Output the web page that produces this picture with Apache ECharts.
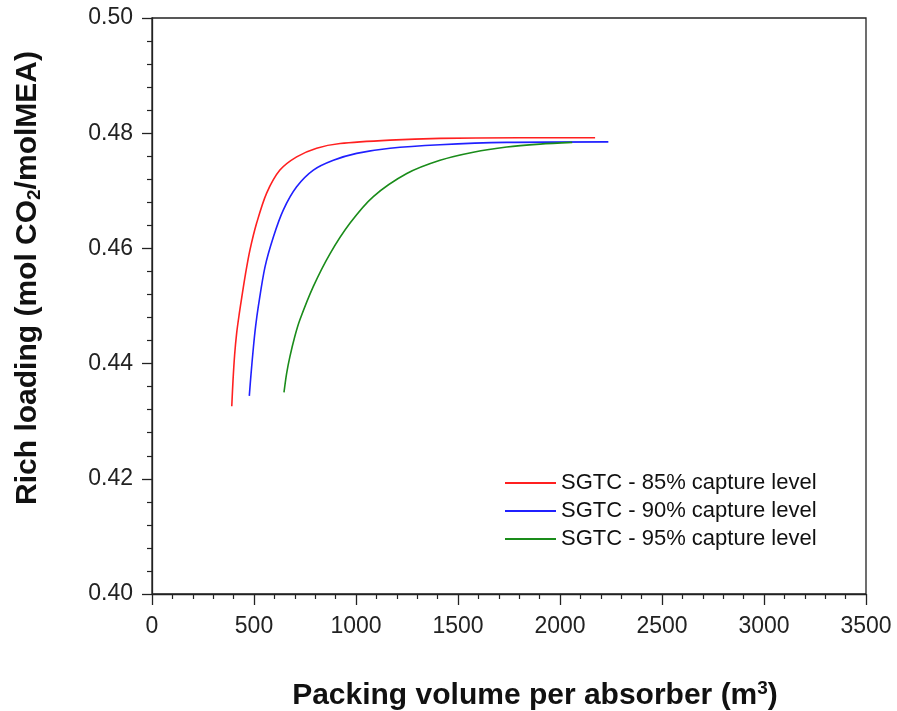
<!DOCTYPE html>
<html>
<head>
<meta charset="utf-8">
<script src="https://cdn.jsdelivr.net/npm/echarts@6/dist/echarts.min.js"></script>
<style>
  html, body { margin: 0; padding: 0; background: #fff; }
  #chart { width: 897px; height: 711px; }
</style>
</head>
<body>
<div id="chart"></div>
<script>
// packing volume (m3) and rich loading for each capture level
const red85X = [391, 397, 405, 415, 428, 440, 458, 480, 513, 562, 627, 709, 807, 922, 1167, 1412, 1800, 2172]
const red85Y = [0.4326, 0.4370, 0.4415, 0.4453, 0.4487, 0.4515, 0.4555, 0.4597, 0.4644, 0.4696, 0.4736, 0.4759, 0.4774, 0.4782, 0.4788, 0.4791, 0.4792, 0.4792]

const blue90X = [477, 485, 497, 508, 521, 554, 595, 644, 709, 791, 889, 1003, 1167, 1412, 1739, 2237]
const blue90Y = [0.4344, 0.4380, 0.4428, 0.4465, 0.4499, 0.4568, 0.4620, 0.4667, 0.4707, 0.4736, 0.4753, 0.4765, 0.4774, 0.4780, 0.4784, 0.4785]

const green95X = [647, 660, 676, 700, 725, 791, 873, 971, 1085, 1249, 1412, 1575, 1739, 1902, 2060]
const green95Y = [0.4350, 0.4383, 0.4412, 0.4447, 0.4476, 0.4534, 0.4591, 0.4644, 0.4690, 0.4730, 0.4753, 0.4767, 0.4776, 0.4781, 0.4784]

const seriesNames = ['SGTC - 85% capture level', 'SGTC - 90% capture level', 'SGTC - 95% capture level']
const seriesColors = ['#ff2020', '#2020ff', '#1a8c1a']

const pairs = (xs, ys) => xs.map((x, i) => [x, ys[i]])
const allData = [pairs(red85X, red85Y), pairs(blue90X, blue90Y), pairs(green95X, green95Y)]

const font = '"Liberation Sans", Arial, sans-serif'
const chart = echarts.init(document.getElementById('chart'))

chart.setOption({
  animation: false,
  grid: {
    left: 152, right: 31, top: 18, bottom: 117,
    outerBoundsMode: 'none',
    show: true, borderColor: '#222', borderWidth: 1.3
  },
  legend: {
    orient: 'vertical',
    left: 500, top: 467,
    icon: 'rect',
    itemWidth: 51, itemHeight: 2, itemGap: 6,
    textStyle: { fontFamily: font, fontSize: 22, color: '#111' },
    data: seriesNames
  },
  xAxis: {
    type: 'value', min: 0, max: 3500, interval: 500,
    name: '{b|Packing volume per absorber (m}{sup|3}{b|)}',
    nameLocation: 'middle', nameGap: 85,
    nameTextStyle: {
      padding: [0, 0, 0, 52],
      rich: {
        b: { fontFamily: font, fontWeight: 'bold', fontSize: 30, color: '#111' },
        sup: { fontFamily: font, fontWeight: 'bold', fontSize: 19, color: '#111', padding: [0, 0, 14, 0] }
      }
    },
    axisLine: { lineStyle: { color: '#222', width: 1.3 } },
    axisTick: { length: 11, lineStyle: { color: '#222', width: 1.3 } },
    minorTick: { show: true, splitNumber: 5, length: 5, lineStyle: { color: '#222', width: 1.2 } },
    axisLabel: { fontFamily: font, fontSize: 23, color: '#222', margin: 21, formatter: v => String(v) },
    splitLine: { show: false }
  },
  yAxis: {
    type: 'value', min: 0.40, max: 0.50, interval: 0.02,
    name: '{b|Rich loading (mol CO}{sub|2}{b|/molMEA)}',
    nameLocation: 'middle', nameGap: 108, nameRotate: 90,
    nameTextStyle: {
      padding: [0, 0, 0, 56],
      rich: {
        b: { fontFamily: font, fontWeight: 'bold', fontSize: 30, color: '#111' },
        sub: { fontFamily: font, fontWeight: 'bold', fontSize: 19, color: '#111', padding: [14, 0, 0, 0] }
      }
    },
    axisLine: { show: true, lineStyle: { color: '#222', width: 1.3 } },
    axisTick: { show: true, length: 10, lineStyle: { color: '#222', width: 1.3 } },
    minorTick: { show: true, splitNumber: 5, length: 5, lineStyle: { color: '#222', width: 1.2 } },
    axisLabel: { fontFamily: font, fontSize: 23, color: '#222', margin: 19, formatter: v => v.toFixed(2) },
    splitLine: { show: false }
  },
  series: allData.map((d, i) => ({
    name: seriesNames[i],
    type: 'line',
    data: d,
    smooth: 0.3,
    symbol: 'none',
    lineStyle: { color: seriesColors[i], width: 1.6 },
    itemStyle: { color: seriesColors[i] }
  }))
})
</script>
</body>
</html>
